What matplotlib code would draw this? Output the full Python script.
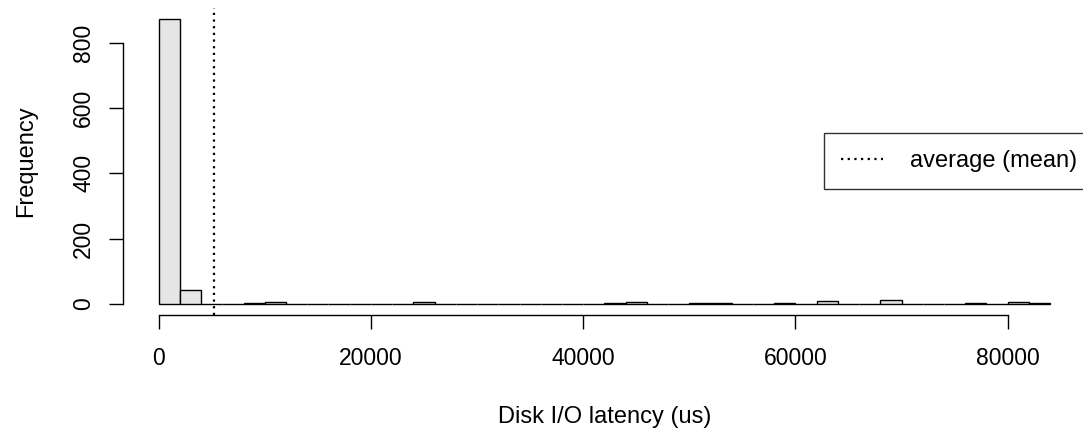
#############
# LIBRARIES #
#############

import matplotlib
matplotlib.use("Agg")
import matplotlib.pyplot as plt
import numpy as np

########
# DATA #
########

# histogram breaks (us), one bin every 2000 us
Bin_start 			= 0
Bin_width 			= 2000
Counts 				= [872, 43, 0, 0, 2, 6, 0, 0, 1, 0,
					   0, 0, 6, 0, 0, 0, 1, 0, 0, 0,
					   0, 2, 7, 0, 0, 2, 2, 0, 0, 2,
					   0, 10, 0, 0, 12, 0, 0, 1, 2, 0,
					   6, 3]
Mean_latency 		= 5200

X_ticks 			= [0, 20000, 40000, 60000, 80000]
Y_ticks 			= [0, 200, 400, 600, 800]

Edges 				= Bin_start + Bin_width*np.arange(len(Counts)+1)

##########
# FIGURE #
##########

plt.rcParams['font.family'] = ['Liberation Sans', 'DejaVu Sans']

fig = plt.figure(figsize=(10.83, 4.34), dpi=100)
ax = fig.add_axes([0.1136, 0.2733, 0.889, 0.709])

ax.bar(Edges[:-1], Counts, width=Bin_width, align='edge',
	   color='#e5e5e5', edgecolor='black', linewidth=1.0)

# average line
ax.axvline(Mean_latency, color='black', linestyle=(0, (1, 2.0)), linewidth=1.6,
		   label='average (mean)')

# R like limits (4% extension)
xr = Edges[-1] - Edges[0]
ax.set_xlim(Edges[0] - 0.04*xr, Edges[-1] + 0.04*xr)
yr = max(Counts)
ax.set_ylim(-0.04*yr, yr*1.04)

# R like axes
for s in ['top', 'right']:
	ax.spines[s].set_visible(False)
ax.spines['left'].set_bounds(Y_ticks[0], Y_ticks[-1])
ax.spines['bottom'].set_bounds(X_ticks[0], X_ticks[-1])
ax.spines['left'].set_linewidth(1.0)
ax.spines['bottom'].set_linewidth(1.0)

ax.set_xticks(X_ticks)
ax.set_yticks(Y_ticks)
ax.set_xticklabels([str(v) for v in X_ticks])
ax.set_yticklabels([str(v) for v in Y_ticks], rotation=90, va='center')
ax.tick_params(axis='both', length=10, width=1.0, labelsize=16.5)
ax.tick_params(axis='x', pad=13)
ax.tick_params(axis='y', pad=10)

ax.set_xlabel("Disk I/O latency (us)", fontsize=17, labelpad=26)
ax.set_ylabel("Frequency", fontsize=17, labelpad=25)

leg = ax.legend(loc='upper left', bbox_to_anchor=(0.7283, 0.593), fontsize=17,
				frameon=True, fancybox=False, edgecolor='black',
				handlelength=1.75, handletextpad=1.15, borderpad=0.72,
				borderaxespad=0)
leg.get_frame().set_linewidth(1.0)

plt.savefig('out.png', dpi=100)
